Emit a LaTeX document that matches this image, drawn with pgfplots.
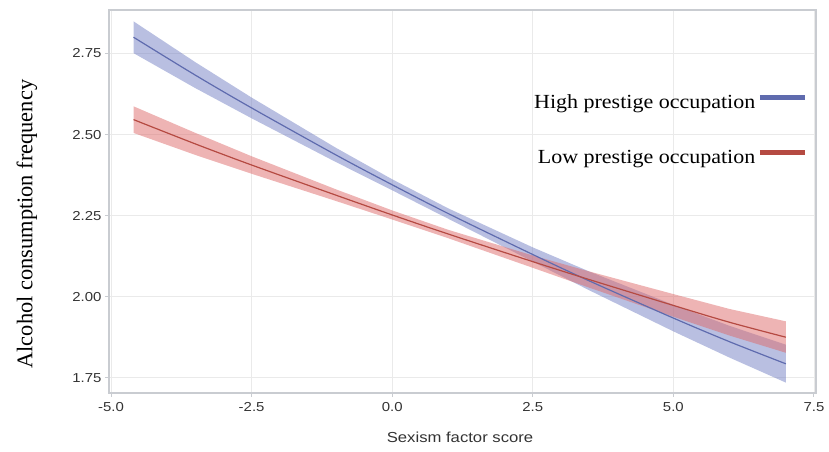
\documentclass[border=0pt]{standalone}
\usepackage{fontspec}
\setmainfont{Liberation Serif}
\newfontfamily\tickfont[FakeStretch=1.15]{Liberation Sans}
\newfontfamily\legfont[FakeStretch=1.1]{Liberation Serif}
\usepackage{pgfplots}
\pgfplotsset{compat=1.18}
\definecolor{hiline}{HTML}{5F6BAE}
\definecolor{hifill}{HTML}{7380C4}
\definecolor{loline}{HTML}{B54A42}
\definecolor{lofill}{HTML}{DE6A6A}
\definecolor{axgray}{HTML}{C9CCD1}
\definecolor{gridgray}{HTML}{EAEAEA}
\begin{document}
\begin{tikzpicture}
\begin{axis}[
  name=ax,
  scale only axis,
  width=707pt, height=383pt,
  xmin=-5.036, xmax=7.536,
  ymin=1.703, ymax=2.884,
  xtick={-5,-2.5,0,2.5,5,7.5},
  xticklabels={-5.0,-2.5,0.0,2.5,5.0,7.5},
  ytick={1.75,2.0,2.25,2.5,2.75},
  yticklabels={1.75,2.00,2.25,2.50,2.75},
  xtick pos=left, ytick pos=left,
  tick align=outside,
  major tick length=4pt,
  tick style={draw=axgray, line width=1pt},
  axis line style={draw=axgray, line width=1.2pt},
  grid=major,
  major grid style={draw=gridgray, line width=0.9pt},
  ticklabel style={font=\tickfont\fontsize{13}{15}\selectfont, text=black!80},
  xticklabel style={yshift=-2pt},
  xlabel={Sexism factor score},
  xlabel style={font=\tickfont\fontsize{14.5}{17}\selectfont, text=black!80, at={(axis description cs:0.4965,0)}, anchor=center, yshift=-44pt},
  ylabel={Alcohol consumption frequency},
  ylabel style={font=\fontsize{22.4}{26}\selectfont, at={(axis description cs:-0.116,0.441)}, anchor=center, rotate=0},
  legend plot pos=right,
  legend cell align=right,
  legend style={at={(rel axis cs:0.988,0.785)}, anchor=north east, draw=none, fill=none,
    font=\legfont\fontsize{20}{24}\selectfont, row sep=36pt, inner sep=0pt,
    nodes={inner sep=2pt}},
  legend image code/.code={\draw[#1, line width=5pt] (0pt,5pt) -- (45pt,5pt);},
]
% confidence bands
\addplot[fill=hifill, fill opacity=0.5, draw=none, forget plot] coordinates {
  (-4.6,2.849) (-3.5,2.723) (-2.5,2.614) (-1,2.459) (0,2.362) (1,2.272)
  (2.5,2.152) (3.5,2.078) (5,1.975) (6,1.910) (7,1.852)
  (7,1.735) (6,1.812) (5,1.893) (3.5,2.020) (2.5,2.108) (1,2.240)
  (0,2.328) (-1,2.415) (-2.5,2.550) (-3.5,2.643) (-4.6,2.751)
} -- cycle;
\addplot[fill=lofill, fill opacity=0.5, draw=none, forget plot] coordinates {
  (-4.6,2.587) (-3.5,2.505) (-2.5,2.433) (-1,2.331) (0,2.266) (1,2.206)
  (2.5,2.127) (3.5,2.078) (5,2.008) (6,1.962) (7,1.924)
  (7,1.827) (6,1.880) (5,1.938) (3.5,2.028) (2.5,2.089) (1,2.180)
  (0,2.238) (-1,2.295) (-2.5,2.379) (-3.5,2.437) (-4.6,2.505)
} -- cycle;
% fitted lines
\addplot[hiline, line width=1.2pt, smooth] coordinates {
  (-4.6,2.800) (-3.5,2.683) (-2.5,2.582) (-1,2.437) (0,2.345) (1,2.256)
  (2.5,2.130) (3.5,2.049) (5,1.934) (6,1.861) (7,1.793)
};
\addlegendentry{High prestige occupation}
\addplot[loline, line width=1.2pt, smooth] coordinates {
  (-4.6,2.546) (-3.5,2.471) (-2.5,2.406) (-1,2.313) (0,2.252) (1,2.193)
  (2.5,2.108) (3.5,2.053) (5,1.973) (6,1.921) (7,1.875)
};
\addlegendentry{Low prestige occupation}
\end{axis}
\pgfresetboundingbox
\path ([shift={(-109pt,-59pt)}]ax.south west) rectangle ([shift={(13pt,10pt)}]ax.north east);
\end{tikzpicture}
\end{document}
